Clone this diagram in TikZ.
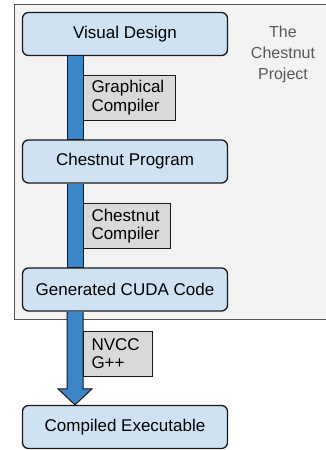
\documentclass[tikz,border=0pt]{standalone}
\usepackage{fontspec}
\setmainfont{Liberation Sans}
\usetikzlibrary{calc, positioning}
\definecolor{stageblue}{HTML}{CFE2F3}
\definecolor{pipeblue}{HTML}{3D85C6}
\definecolor{toolgray}{HTML}{D9D9D9}
\definecolor{panelgray}{HTML}{F3F3F3}
\definecolor{edgegray}{HTML}{555555}
\definecolor{titlegray}{HTML}{595959}
\tikzset{
	stage/.style={draw=black!90, line width=1.3pt, fill=stageblue, rounded corners=6pt, minimum width=205pt, minimum height=43pt, font=\fontsize{17}{19}\selectfont},
	tool/.style={draw=black!90, line width=1pt, fill=toolgray, anchor=west, align=left, inner xsep=8pt, minimum height=45pt, font=\fontsize{17}{18.5}\selectfont},
	pipe/.style={draw=black!90, line width=1pt, fill=pipeblue},
}

\begin{document}
\begin{tikzpicture}[x=1pt, y=-1pt]
\useasboundingbox (0,0) rectangle (325,450);
\filldraw[fill=panelgray, draw=edgegray, line width=1pt] (14,4) rectangle (335,319);
\node[align=center, text=titlegray, font=\fontsize{16}{21}\selectfont] (title) at (283,54) {The\\Chestnut\\Project};
\node[stage] (design) at (125,34) {Visual Design};
\node[stage] (program) at (125,161.5) {Chestnut Program};
\node[stage] (cuda) at (125,289.5) {Generated CUDA Code};
\node[stage] (exe) at (125,427) {Compiled Executable};
\filldraw[pipe] ($(design.south)+(-42,0)$) -- ($(program.north)+(-42,0)$) -- ($(program.north)+(-58,0)$) -- ($(design.south)+(-58,0)$);
\filldraw[pipe] ($(program.south)+(-42,0)$) -- ($(cuda.north)+(-42,0)$) -- ($(cuda.north)+(-58,0)$) -- ($(program.south)+(-58,0)$);
\filldraw[pipe] ($(cuda.south)+(-42,0)$) -- ($(exe.north)+(-42,-16)$) -- ($(exe.north)+(-33,-16)$) -- ($(exe.north)+(-50,0)$) -- ($(exe.north)+(-67,-16)$) -- ($(exe.north)+(-58,-16)$) -- ($(cuda.south)+(-58,0)$);
\node[tool, text width=76pt] (graphc) at (83,97.5) {Graphical\\Compiler};
\node[tool, text width=71pt] (chestc) at (83,226) {Chestnut\\Compiler};
\node[tool, text width=53pt] (nvcc) at (83,353.5) {NVCC\\G++};
\end{tikzpicture}
\end{document}
